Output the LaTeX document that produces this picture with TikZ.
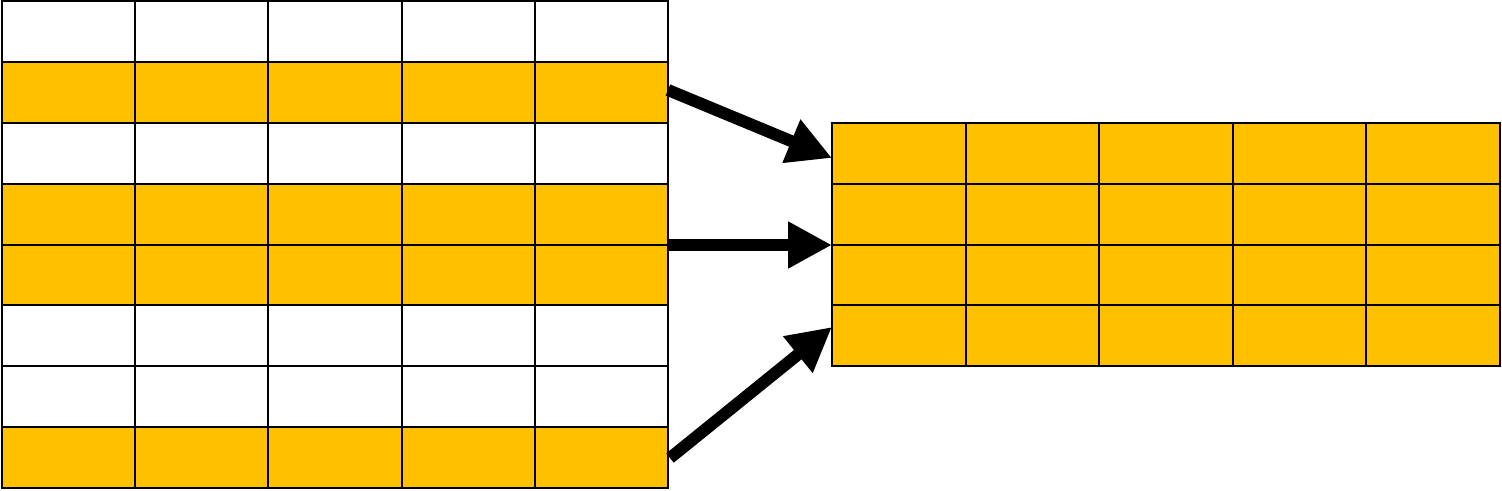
\documentclass[tikz,border=0pt]{standalone}
\usetikzlibrary{arrows.meta}
\definecolor{gold}{HTML}{FFC000}
\begin{document}
\begin{tikzpicture}[x=1pt,y=-1pt,
  cellL/.style={draw=black,line width=2pt,minimum width=133.2pt,minimum height=60.875pt,inner sep=0pt,outer sep=0pt},
  cellR/.style={draw=black,line width=2pt,minimum width=133.6pt,minimum height=60.75pt,inner sep=0pt,outer sep=0pt,fill=gold},
  bigarrow/.style={line width=12pt,-{Triangle[length=44pt,width=44pt]}}]
\useasboundingbox (0,0) rectangle (1502,490);
% left grid
\foreach \r/\f in {1/white,2/gold,3/white,4/gold,5/gold,6/white,7/white,8/gold}{
  \foreach \c in {1,...,5}{
    \node[cellL,fill=\f,anchor=north west] (L-\r-\c) at ({2+(\c-1)*133.2},{1+(\r-1)*60.875}) {};
  }
}
% right grid
\foreach \r in {1,...,4}{
  \foreach \c in {1,...,5}{
    \node[cellR,anchor=north west] (R-\r-\c) at ({832+(\c-1)*133.6},{123+(\r-1)*60.75}) {};
  }
}
\coordinate (s1) at (668,90);
\coordinate (t1) at (832,158);
\coordinate (s2) at (668,245);
\coordinate (t2) at (832,245);
\coordinate (s3) at (670,458);
\coordinate (t3) at (832,327);
\draw[bigarrow] (s1) -- (t1);
\draw[bigarrow] (s2) -- (t2);
\draw[bigarrow] (s3) -- (t3);
\end{tikzpicture}
\end{document}
